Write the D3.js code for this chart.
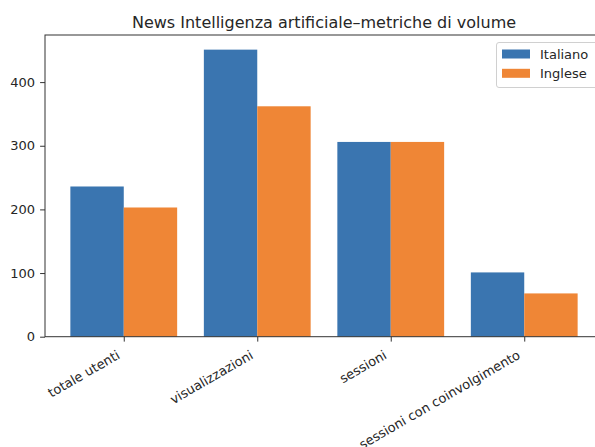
<!DOCTYPE html>
<meta charset="utf-8">
<script src="https://d3js.org/d3.v7.min.js"></script>
<style>
  body { margin: 0; background: #fff; }
  text { font-family: "DejaVu Sans", sans-serif; fill: #262626; }
</style>
<div id="chart"></div>
<script>
    // data
    var categories = ["totale utenti", "visualizzazioni", "sessioni", "sessioni con coinvolgimento"];
    var seriesNames = ["Italiano", "Inglese"];
    var italiano = [236, 451, 306, 101];
    var inglese = [203, 362, 306, 68];
    var yTicks = [0, 100, 200, 300, 400];
    var colors = ["#3a75b0", "#ef8636"];

    var W = 595, H = 447;
    // plot area (right edge runs past the window, as in the reference)
    var plot = {left: 45, right: 603, top: 35, bottom: 336.7};

    var svg = d3.select("#chart").append("svg")
        .attr("width", W)
        .attr("height", H);

    // x: category index -> pixel, like matplotlib's numeric x positions
    var x = d3.scaleLinear().domain([-0.59, 3.59]).range([plot.left, plot.right]);
    var y = d3.scaleLinear().domain([0, 474]).range([plot.bottom, plot.top]);
    var barW = x(0.4) - x(0);

    var series = [italiano, inglese];
    series.forEach(function(vals, s) {
        svg.selectAll(".bar-" + s)
            .data(vals)
            .enter()
            .append("rect")
            .attr("class", "bar-" + s)
            .attr("x", function(d, i) { return x(i - 0.4 + s * 0.4); })
            .attr("width", barW)
            .attr("y", function(d) { return y(d); })
            .attr("height", function(d) { return plot.bottom - y(d); })
            .style("fill", colors[s]);
    });

    // y axis
    var yAxis = svg.append("g")
        .attr("transform", "translate(" + plot.left + ",0)")
        .call(d3.axisLeft(y).tickValues(yTicks).tickSize(4.9).tickPadding(5));
    yAxis.select(".domain").remove();
    yAxis.selectAll("line").attr("stroke", "#333");
    yAxis.selectAll("text").style("font-size", "13px").style("font-family", "DejaVu Sans, sans-serif").attr("fill", "#262626");

    // x axis
    var xAxis = svg.append("g")
        .attr("transform", "translate(0," + plot.bottom + ")")
        .call(d3.axisBottom(x).tickValues([0, 1, 2, 3]).tickSize(4.9)
            .tickFormat(function(i) { return categories[i]; }));
    xAxis.select(".domain").remove();
    xAxis.selectAll("line").attr("stroke", "#333");
    xAxis.selectAll("text")
        .style("font-size", "13px")
        .style("font-family", "DejaVu Sans, sans-serif")
        .attr("fill", "#262626")
        .attr("text-anchor", "end")
        .attr("y", 0)
        .attr("dy", 0)
        .attr("transform", "translate(-3.5,21) rotate(-30)");

    // spines
    svg.append("rect")
        .attr("x", plot.left).attr("y", plot.top)
        .attr("width", plot.right - plot.left).attr("height", plot.bottom - plot.top)
        .attr("fill", "none")
        .attr("stroke", "#333")
        .attr("stroke-width", 1);

    // title
    svg.append("text")
        .attr("x", (plot.left + plot.right) / 2)
        .attr("y", 27.7)
        .attr("text-anchor", "middle")
        .style("font-size", "16px")
        .text("News Intelligenza artificiale\u2013metriche di volume");

    // legend
    var lg = svg.append("g");
    lg.append("rect")
        .attr("x", 496.5).attr("y", 42.5)
        .attr("width", 120).attr("height", 45)
        .attr("rx", 2.5)
        .attr("fill", "#fff")
        .attr("fill-opacity", 0.8)
        .attr("stroke", "#d0d0d0");
    seriesNames.forEach(function(name, s) {
        var cy = 54 + s * 19.3;
        lg.append("rect")
            .attr("x", 502).attr("y", cy - 4.5)
            .attr("width", 28).attr("height", 9)
            .style("fill", colors[s]);
        lg.append("text")
            .attr("x", 540).attr("y", cy + 4.7)
            .style("font-size", "13px")
            .text(name);
    });
</script>
